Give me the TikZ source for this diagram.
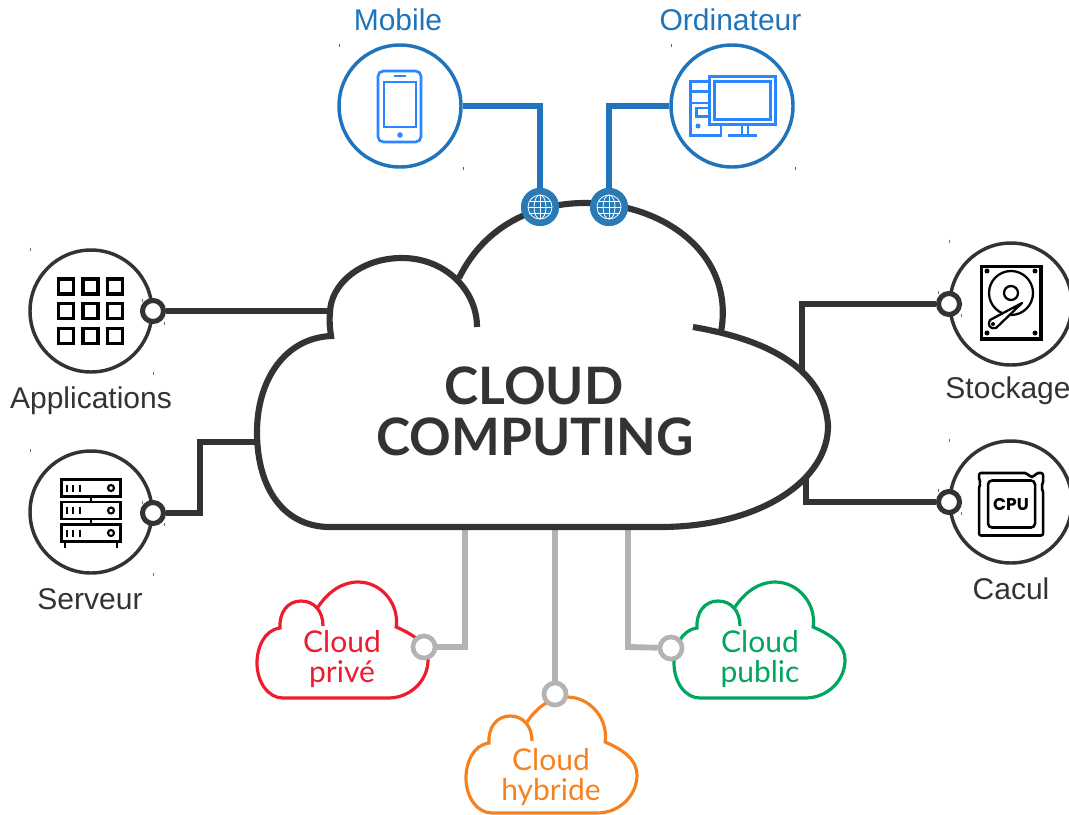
\documentclass[tikz,border=0pt]{standalone}
\usepackage{fontspec}
\setmainfont{Liberation Sans}
\newfontfamily\latofont{Lato}
\newfontfamily\cpufont{Poppins}
\usetikzlibrary{backgrounds}
\definecolor{dark}{HTML}{333333}
\definecolor{linkblue}{HTML}{1F74BB}
\definecolor{iconblue}{HTML}{2B87FF}
\definecolor{globeblue}{HTML}{2A7AB5}
\definecolor{linkgray}{HTML}{B3B3B3}
\definecolor{cred}{HTML}{ED1C2E}
\definecolor{cgreen}{HTML}{00A65D}
\definecolor{corange}{HTML}{F58220}
\tikzset{
  hub/.style={circle,draw=#1,fill=white,line width=2.6pt,minimum size=122*0.75pt,inner sep=0pt},
  ring/.style={circle,draw=#1,fill=white,line width=3.8pt,minimum size=21*0.75pt,inner sep=0pt},
  gring/.style={circle,draw=linkgray,fill=white,line width=3.4pt,minimum size=22*0.75pt,inner sep=0pt},
  globe/.style={circle,fill=globeblue,minimum size=38*0.75pt,inner sep=0pt},
  lab/.style={font=\fontsize{22.5}{27}\selectfont,text=#1,anchor=base,inner sep=0pt},
  cloudlab/.style={font=\latofont\fontsize{22.5}{27}\selectfont,text=#1,anchor=base,inner sep=0pt},
  bigt/.style={font=\latofont\bfseries\fontsize{38.7}{46}\selectfont,text=dark,anchor=base,inner sep=0pt},
  darklink/.style={draw=dark,line width=4.8pt,miter limit=10},
  bluelink/.style={draw=linkblue,line width=5.2pt},
  graylink/.style={draw=linkgray,line width=4.4pt},
  icondark/.style={draw=black,line width=2.3pt},
  iconb/.style={draw=iconblue,line width=2pt},
  tick/.style={draw=#1,line width=0.5pt},
  smallcloud/.pic={
    \draw[line width=2.4pt]
      (318,607) .. controls (328,592) and (342,582) .. (358,582)
      .. controls (382,582) and (400,605) .. (396,628);
    \draw[line width=2.4pt]
      (323,626) .. controls (323,612) and (315,601) .. (301,601)
      .. controls (288,601) and (279,612) .. (280,628)
      .. controls (264,630) and (257,648) .. (257,663)
      .. controls (257,682) and (268,698) .. (283,698)
      -- (388,698)
      .. controls (411,698) and (428,680) .. (428,660)
      .. controls (428,645) and (415,635) .. (396,627);
  }
}
\newcommand{\globeicon}[1]{%
  \begin{scope}[shift={(#1)},draw=white,line width=0.6pt]
    \draw (0,0) circle[radius=12];
    \draw (0,-12) -- (0,12);
    \draw (-12,0) -- (12,0);
    \draw (-10.6,-6) -- (10.6,-6);
    \draw (-10.6,6) -- (10.6,6);
    \draw (0,0) circle[x radius=6,y radius=12];
  \end{scope}}
\begin{document}
\begin{tikzpicture}[x=0.75pt,y=-0.75pt]
\useasboundingbox (0,0) rectangle (1069,814);
\clip (0,0) rectangle (1069,814);

% hubs
\node[hub=linkblue] (mobile) at (400,106) {};
\node[hub=linkblue] (ordi) at (732,106) {};
\node[hub=dark] (apps) at (91,311) {};
\node[hub=dark] (serv) at (91,512) {};
\node[hub=dark] (stock) at (1011,304) {};
\node[hub=dark] (cpu) at (1011,502) {};

% attachment points
\coordinate (capps) at (331,311);
\coordinate (cserv) at (258,442);
\coordinate (cstock) at (802,376);
\coordinate (ccpu) at (806,477);
\coordinate (cg1) at (465,527);
\coordinate (cg2) at (555,527);
\coordinate (cg3) at (628,527);
\coordinate (jserv) at (200,442);
\coordinate (jg1) at (465,647);
\coordinate (jg3) at (628,647);

% connection rings and globes
\node[ring=dark] (rapps) at (153,311) {};
\node[ring=dark] (rserv) at (153,513) {};
\node[ring=dark] (rstock) at (949,304) {};
\node[ring=dark] (rcpu) at (949,502) {};
\node[globe] (g1) at (540,207) {};
\node[globe] (g2) at (609,207) {};
\node[gring] (rpriv) at (424,647) {};
\node[gring] (rhyb) at (555,694) {};
\node[gring] (rpub) at (671,648) {};

\begin{pgfonlayer}{background}
  \draw[bluelink] (mobile.east) -| (g1.center);
  \draw[bluelink] (ordi.west) -| (g2.center);
  \draw[darklink] (rapps) -- (capps);
  \draw[darklink] (rserv) -| (jserv) -- (cserv);
  \draw[darklink] (rstock) -| (cstock);
  \draw[darklink] (rcpu) -| (ccpu);
  \draw[graylink] (cg1) -- (jg1) -- (rpriv);
  \draw[graylink] (cg2) -- (rhyb);
  \draw[graylink] (cg3) -- (jg3) -- (rpub);
\end{pgfonlayer}

% main cloud
\begin{scope}[on background layer]
  \fill[white] (459,278) -- (331,336)
    .. controls (285,338) and (257,380) .. (257,440)
    .. controls (257,490) and (285,527) .. (330,527)
    -- (660,527) .. controls (760,527) and (830,480) .. (829,425)
    .. controls (825,370) and (770,340) .. (721,332) -- cycle;
\end{scope}
\draw[draw=dark,line width=4.6pt]
  (459,278) .. controls (485,225) and (535,203) .. (585,203)
  .. controls (665,203) and (735,255) .. (721,332);
\draw[draw=dark,line width=4.6pt]
  (477,327) .. controls (477,290) and (445,258) .. (402,258)
  .. controls (360,258) and (330,285) .. (330,313)
  .. controls (329,322) and (330,328) .. (331,336)
  .. controls (285,338) and (257,380) .. (257,432)
  .. controls (257,490) and (285,527) .. (330,527)
  -- (660,527)
  .. controls (760,527) and (829,480) .. (828,425)
  .. controls (824,370) and (770,340) .. (693,327);

% globes above the cloud stroke
\node[globe] at (g1) {};
\node[globe] at (g2) {};
\globeicon{540,207}
\globeicon{609,207}

\node[bigt] (t1) at (534,404) {CLOUD};
\node[bigt] (t2) at (535,455) {COMPUTING};

% small clouds
\pic[color=cred] at (0,0) {smallcloud};
\pic[color=cgreen] at (417,0) {smallcloud};
\pic[color=corange] at (209,115) {smallcloud};
\node[gring] at (rpriv) {};
\node[gring] at (rhyb) {};
\node[gring] at (rpub) {};

% labels
\node[lab=linkblue] (lmob) at (398,30) {Mobile};
\node[lab=linkblue] (lord) at (730.5,30) {Ordinateur};
\node[lab=dark] (lapp) at (91,408) {Applications};
\node[lab=dark] (lser) at (90,609) {Serveur};
\node[lab=dark] (lsto) at (1008,398) {Stockage};
\node[lab=dark] (lcpu) at (1011,599) {Cacul};
\node[cloudlab=cred] (l1a) at (342,652) {Cloud};
\node[cloudlab=cred] (l1b) at (342,682) {privé};
\node[cloudlab=cgreen] (l2a) at (760,652) {Cloud};
\node[cloudlab=cgreen] (l2b) at (760,682) {public};
\node[cloudlab=corange] (l3a) at (551,770) {Cloud};
\node[cloudlab=corange] (l3b) at (551,800) {hybride};

% phone icon
\draw[iconb,rounded corners=4pt] (378,71) rectangle (421,142);
\draw[iconb] (384,82) rectangle (416,127);
\draw[iconb] (394,76) -- (406,76);
\fill[iconblue] (400,135) circle[radius=2.8];

% computer icon
\draw[iconb] (709.5,76.5) rectangle (775.5,124.5);
\draw[iconb] (714.5,81.5) rectangle (770.5,119.5);
\draw[iconb] (742,125) -- (742,135) (748,125) -- (748,135) (728,135.5) -- (757,135.5);
\draw[iconb] (709,81.5) -- (690.5,81.5) -- (690.5,135.5) -- (721,135.5) -- (721,125);
\draw[iconb] (690.5,91.5) -- (709,91.5) (690.5,103) -- (709,103);
\draw[iconb] (709,108) -- (696.5,108) -- (696.5,116.5) -- (709,116.5);
\fill[iconblue] (698,126) circle[radius=2.5];

% applications icon
\foreach \xx in {58.5,83,107.5}
  \foreach \yy in {279,303.5,328.5}
    \draw[icondark] (\xx,\yy) rectangle ++(15,15);

% server icon
\foreach \yy in {479.5,502,524.5}{
  \draw[icondark,line width=2pt] (61.5,\yy) rectangle (120.5,\yy+17);
  \draw[icondark,line width=1.6pt] (111,\yy+8.5) circle[radius=3];
  \foreach \xx in {67,73,80}
    \draw[icondark,line width=1.6pt] (\xx,\yy+5) -- (\xx,\yy+12);
}
\draw[icondark,line width=2pt] (91,497) -- (91,502) (91,519.5) -- (91,524.5)
  (65,542) -- (65,547.5) (117,542) -- (117,547.5);

% disk icon
\draw[icondark] (981.5,266.5) rectangle (1041,339);
\draw[icondark,line width=1.7pt] (1011,293) circle[radius=22];
\draw[icondark,line width=1.7pt,fill=white] (1011,293) circle[radius=7];
\draw[icondark,line width=1.7pt,fill=white,line join=round]
  (1022,303) -- (996,328) .. controls (990,330) and (987,324) .. (990,320) -- cycle;
\fill[black] (993,324) circle[radius=2];
\foreach \xx in {987,1035}\foreach \yy in {271,333}
  \fill[black] (\xx,\yy) circle[radius=2.5];

% cpu icon
\draw[icondark,line width=1.9pt,line join=round,rounded corners=1.5pt]
  (979,473) -- (1027,473) -- (1030,477) -- (1034,477) -- (1036,473) -- (1043,473)
  -- (1043,484) -- (1041,487) -- (1043,490) -- (1043,535.5) -- (979,535.5) -- (979,486)
  -- (981,483) -- (979,480) -- cycle;
\draw[icondark,line width=1.9pt,rounded corners=3pt] (988,480.5) rectangle (1035,527.5);
\node[font=\cpufont\bfseries\fontsize{12.8}{14}\selectfont,inner sep=0pt] (cputxt) at (1011,504) {CPU};

% tiny marks
\foreach \xx/\yy in {339/45,463/168,671/45,795/168}
  \draw[tick=linkblue] (\xx,\yy-1.5) -- (\xx,\yy+1.5);
\foreach \xx/\yy in {30/249,153/373,30/450,153/574,949/241,949/440,142/300,164/323,142/502,164/524,938/292,961/315,938/490,961/513}
  \draw[tick=dark!70] (\xx,\yy-1.5) -- (\xx,\yy+1.5);
\end{tikzpicture}
\end{document}
